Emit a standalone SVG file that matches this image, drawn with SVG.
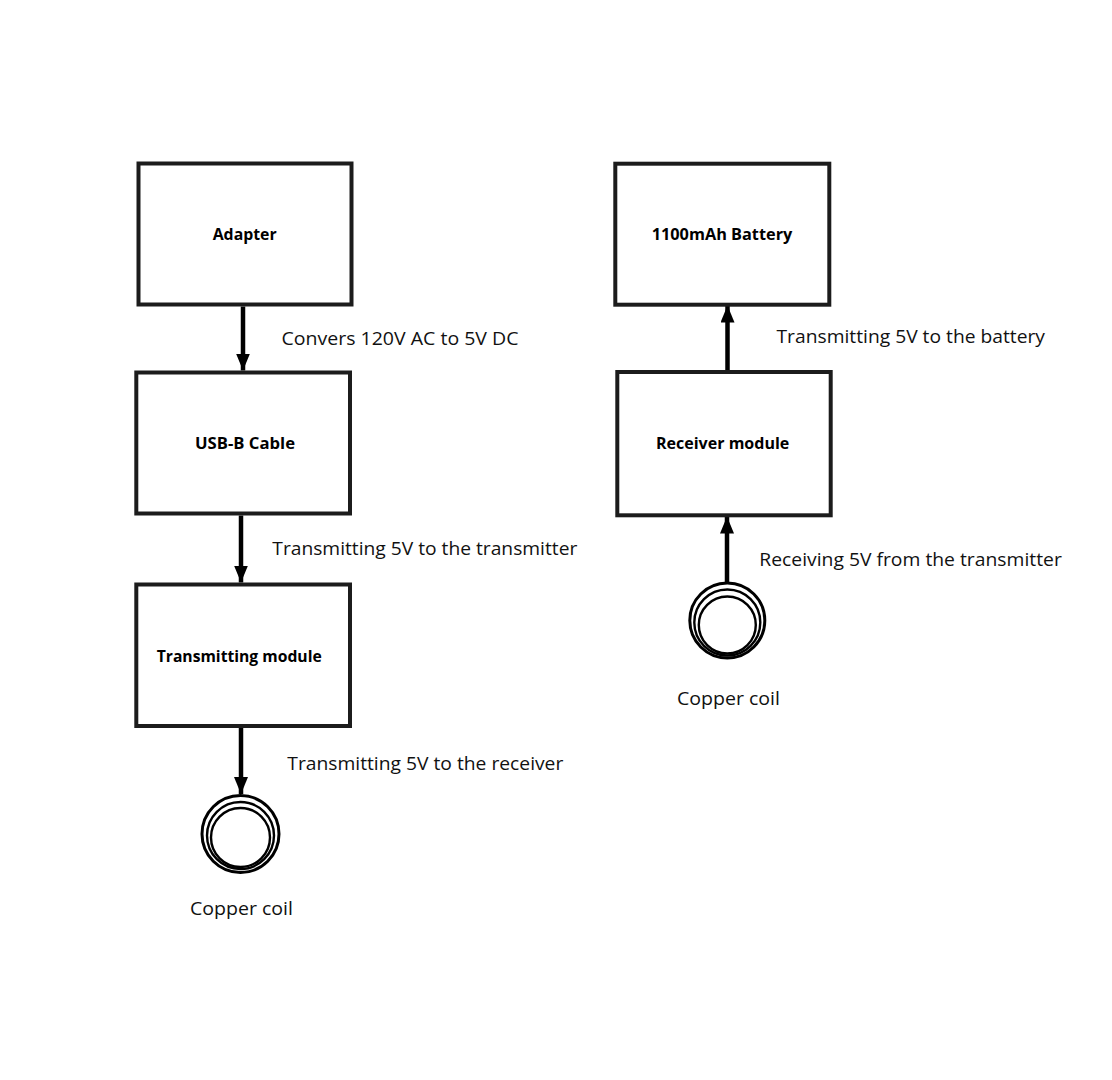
<svg xmlns="http://www.w3.org/2000/svg" width="1112" height="1080" viewBox="0 0 1112 1080">
<style>
.box{fill:#fff;stroke:#1c1c1c;stroke-width:4}
.title{font-family:"Open Sans","Liberation Sans",sans-serif;font-weight:bold;font-size:16px;fill:#000}
.lbl{font-family:"Open Sans","Liberation Sans",sans-serif;font-size:18.5px;fill:#111}
.conn{stroke:#000;stroke-width:4.5;fill:none}
.coil{fill:none;stroke:#000}
</style>
<defs>
<marker id="ah" markerUnits="userSpaceOnUse" markerWidth="18" markerHeight="14" viewBox="0 0 18 14" refX="17" refY="7" orient="auto">
<path d="M0,0 L17,7 L0,14 Z" fill="#000"/>
</marker>
</defs>
<rect width="1112" height="1080" fill="#fff"/>

<g id="connectors">
<line class="conn" x1="243" y1="306.5" x2="243" y2="370.5" marker-end="url(#ah)"/>
<line class="conn" x1="241" y1="515.5" x2="241" y2="582.5" marker-end="url(#ah)"/>
<line class="conn" x1="241" y1="728" x2="241" y2="794" marker-end="url(#ah)"/>
<line class="conn" x1="727.5" y1="370" x2="727.5" y2="305.5" marker-end="url(#ah)"/>
<line class="conn" x1="727" y1="582" x2="727" y2="516.5" marker-end="url(#ah)"/>
</g>

<g id="edge-labels">
<text class="lbl" x="281.5" y="345" textLength="237" lengthAdjust="spacingAndGlyphs">Convers 120V AC to 5V DC</text>
<text class="lbl" x="272.3" y="555" textLength="305" lengthAdjust="spacingAndGlyphs">Transmitting 5V to the transmitter</text>
<text class="lbl" x="287.3" y="770" textLength="276" lengthAdjust="spacingAndGlyphs">Transmitting 5V to the receiver</text>
<text class="lbl" x="776.5" y="343" textLength="268.5" lengthAdjust="spacingAndGlyphs">Transmitting 5V to the battery</text>
<text class="lbl" x="759.3" y="565.5" textLength="302.5" lengthAdjust="spacingAndGlyphs">Receiving 5V from the transmitter</text>
</g>

<g id="adapter">
<rect class="box" x="138.5" y="163.5" width="213" height="141"/>
<text class="title" x="212.7" y="240" textLength="64" lengthAdjust="spacingAndGlyphs">Adapter</text>
</g>
<g id="usb-b-cable">
<rect class="box" x="136.3" y="372.5" width="213.7" height="141"/>
<text class="title" x="195" y="449" textLength="100" lengthAdjust="spacingAndGlyphs">USB-B Cable</text>
</g>
<g id="transmitting-module">
<rect class="box" x="136.3" y="584.5" width="213.7" height="141.5"/>
<text class="title" x="156.7" y="662" textLength="165" lengthAdjust="spacingAndGlyphs">Transmitting module</text>
</g>
<g id="battery">
<rect class="box" x="615.3" y="163.7" width="214" height="141"/>
<text class="title" x="651.7" y="240" textLength="140.6" lengthAdjust="spacingAndGlyphs">1100mAh Battery</text>
</g>
<g id="receiver-module">
<rect class="box" x="617.3" y="372" width="213.4" height="143.3"/>
<text class="title" x="656" y="448.5" textLength="133.3" lengthAdjust="spacingAndGlyphs">Receiver module</text>
</g>

<g id="copper-coil-tx">
<circle class="coil" cx="240.5" cy="834" r="38.5" stroke-width="3"/>
<circle class="coil" cx="240.5" cy="835.5" r="33.5" stroke-width="2.4"/>
<circle class="coil" cx="240.5" cy="837.5" r="29.5" stroke-width="2.4"/>
<text class="lbl" x="190" y="915" textLength="103" lengthAdjust="spacingAndGlyphs">Copper coil</text>
</g>
<g id="copper-coil-rx">
<circle class="coil" cx="727.3" cy="620.5" r="37.5" stroke-width="3"/>
<circle class="coil" cx="727.3" cy="622.5" r="33" stroke-width="2.4"/>
<circle class="coil" cx="727.3" cy="625" r="28.5" stroke-width="2.4"/>
<text class="lbl" x="677" y="705" textLength="103" lengthAdjust="spacingAndGlyphs">Copper coil</text>
</g>
</svg>
